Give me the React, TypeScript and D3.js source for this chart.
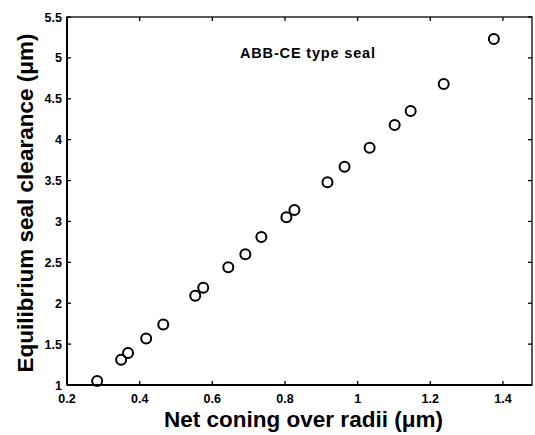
import React from 'react';
import * as d3 from 'd3';

// net coning over radii (um) vs equilibrium seal clearance (um)
const coning = [0.283, 0.349, 0.368, 0.418, 0.465, 0.553, 0.575, 0.644, 0.691, 0.735,
  0.804, 0.826, 0.917, 0.964, 1.033, 1.102, 1.146, 1.237, 1.375];
const clearance = [1.05, 1.31, 1.39, 1.57, 1.74, 2.09, 2.19, 2.44, 2.60, 2.81,
  3.05, 3.14, 3.48, 3.67, 3.90, 4.18, 4.35, 4.68, 5.23];

const xTicks = [0.2, 0.4, 0.6, 0.8, 1, 1.2, 1.4];
const yTicks = [1, 1.5, 2, 2.5, 3, 3.5, 4, 4.5, 5, 5.5];

const W = 535;
const H = 435;
const margin = { top: 17, right: 3, bottom: 50, left: 67 };
const font = 'Arial, "Liberation Sans", Helvetica, sans-serif';

export default function App() {
  const x = d3.scaleLinear().domain([0.2, 1.48]).range([margin.left, W - margin.right]);
  const y = d3.scaleLinear().domain([1, 5.5]).range([H - margin.bottom, margin.top]);
  const [x0, x1] = x.range();
  const [y0, y1] = y.range();
  const tl = 4;

  return (
    <svg width={W} height={H} style={{ position: 'absolute', left: 0, top: 0, background: '#fff' }}>
      {/* box */}
      <rect x={x0} y={y1} width={x1 - x0} height={y0 - y1} fill="none" stroke="#000" strokeWidth={1.3} />
      <line x1={x0} x2={x1} y1={y0} y2={y0} stroke="#000" strokeWidth={2} />
      <line x1={x0} x2={x0} y1={y0} y2={y1} stroke="#000" strokeWidth={2} />

      {xTicks.map(t => (
        <g key={'x' + t}>
          <line x1={x(t)} x2={x(t)} y1={y0} y2={y0 - tl} stroke="#000" strokeWidth={1.3} />
          <line x1={x(t)} x2={x(t)} y1={y1} y2={y1 + tl} stroke="#000" strokeWidth={1.3} />
          <text x={x(t)} y={y0 + 18} textAnchor="middle" fontFamily={font} fontSize={12.5}
            fontWeight="bold">{String(t)}</text>
        </g>
      ))}
      {yTicks.map(t => (
        <g key={'y' + t}>
          <line x1={x0} x2={x0 + tl} y1={y(t)} y2={y(t)} stroke="#000" strokeWidth={1.3} />
          <line x1={x1} x2={x1 - tl} y1={y(t)} y2={y(t)} stroke="#000" strokeWidth={1.3} />
          <text x={x0 - 5} y={y(t) + 4.5} textAnchor="end" fontFamily={font} fontSize={12.5}
            fontWeight="bold">{String(t)}</text>
        </g>
      ))}

      {coning.map((c, i) => (
        <circle key={i} cx={x(c)} cy={y(clearance[i])} r={5} fill="none" stroke="#000" strokeWidth={2} />
      ))}

      <text x={240} y={58} fontFamily={font} fontSize={14.5} fontWeight="bold"
        textLength={135} lengthAdjust="spacing">ABB-CE type seal</text>

      <text x={303.5} y={427} textAnchor="middle" fontFamily={font} fontSize={22.5}
        fontWeight="bold">Net coning over radii (μm)</text>
      <text transform={`translate(33, 203) rotate(-90)`} textAnchor="middle"
        fontFamily={font} fontSize={22.5} fontWeight="bold">Equilibrium seal clearance (μm)</text>
    </svg>
  );
}
